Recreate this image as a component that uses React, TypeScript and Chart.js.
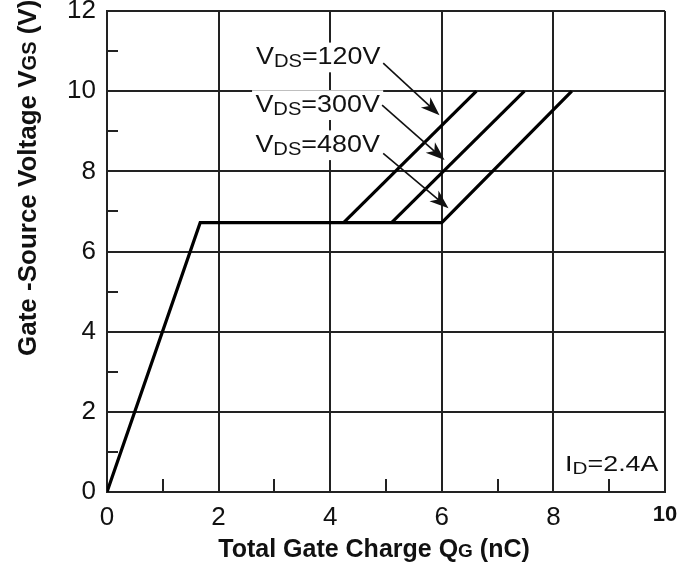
import React, { useEffect, useRef } from "react";
import { Chart, registerables } from "chart.js";

Chart.register(...registerables);

// ---- data ----
const xTickValues = [0, 2, 4, 6, 8, 10];
const yTickValues = [0, 2, 4, 6, 8, 10, 12];
const minorX = [1, 3, 5, 7, 9];
const minorY = [1, 3, 5, 7, 9, 11];

const vds480Q = [0, 1.67, 6.0, 8.33];
const vds480V = [0, 6.72, 6.72, 10];
const vds300Q = [5.1, 7.48];
const vds300V = [6.72, 10];
const vds120Q = [4.24, 6.62];
const vds120V = [6.72, 10];

const seriesNames = ["120V", "300V", "480V"];
const labelQ = [2.67, 2.66, 2.66];
const labelV = [10.67, 9.48, 8.48];
const arrowFromQ = [4.95, 4.93, 4.95];
const arrowFromV = [10.7, 9.65, 8.45];
const arrowToQ = [5.96, 6.05, 6.12];
const arrowToV = [9.4, 8.28, 7.08];

const idText = "2.4A";
const idQ = 8.21;
const idV = 0.52;

const FONT = '"Liberation Sans", Arial, Helvetica, sans-serif';
const INK = "#111111";

type Part = { t: string; small?: boolean };

function drawRich(
  ctx: CanvasRenderingContext2D,
  parts: Part[],
  size: number,
  smallSize: number,
  smallDrop: number,
  weight: string,
  scaleX: number,
  bg: boolean
) {
  const widths = parts.map((p) => {
    ctx.font = `${weight} ${p.small ? smallSize : size}px ${FONT}`;
    return ctx.measureText(p.t).width;
  });
  const total = widths.reduce((a, b) => a + b, 0);
  ctx.save();
  ctx.scale(scaleX, 1);
  if (bg) {
    ctx.fillStyle = "#ffffff";
    ctx.fillRect(-3, -size * 0.78 - 3, total + 6, size * 0.78 + 3 + smallDrop + 5);
  }
  ctx.fillStyle = INK;
  ctx.textAlign = "left";
  ctx.textBaseline = "alphabetic";
  let cx = 0;
  parts.forEach((p, i) => {
    ctx.font = `${weight} ${p.small ? smallSize : size}px ${FONT}`;
    ctx.fillText(p.t, cx, p.small ? smallDrop : 0);
    cx += widths[i];
  });
  ctx.restore();
  return total * scaleX;
}

function arrow(ctx: CanvasRenderingContext2D, x1: number, y1: number, x2: number, y2: number) {
  const ang = Math.atan2(y2 - y1, x2 - x1);
  const L = 19;
  const W = 7;
  const c = Math.cos(ang);
  const s = Math.sin(ang);
  ctx.strokeStyle = INK;
  ctx.lineWidth = 1.6;
  ctx.beginPath();
  ctx.moveTo(x1, y1);
  ctx.lineTo(x2 - c * L * 0.7, y2 - s * L * 0.7);
  ctx.stroke();
  ctx.fillStyle = INK;
  ctx.beginPath();
  ctx.moveTo(x2, y2);
  ctx.lineTo(x2 - c * L - s * W, y2 - s * L + c * W);
  ctx.lineTo(x2 - c * L * 0.72, y2 - s * L * 0.72);
  ctx.lineTo(x2 - c * L + s * W, y2 - s * L - c * W);
  ctx.closePath();
  ctx.fill();
}

const overlay = {
  id: "overlay",
  afterDatasetsDraw(chart: any) {
    const { ctx, chartArea } = chart;
    const x = chart.scales.x;
    const y = chart.scales.y;
    ctx.save();
    // minor ticks
    ctx.strokeStyle = "#222222";
    ctx.lineWidth = 2;
    minorY.forEach((v) => {
      const py = Math.round(y.getPixelForValue(v));
      ctx.beginPath();
      ctx.moveTo(chartArea.left, py);
      ctx.lineTo(chartArea.left + 11, py);
      ctx.stroke();
    });
    minorX.forEach((v) => {
      const px = Math.round(x.getPixelForValue(v));
      ctx.beginPath();
      ctx.moveTo(px, chartArea.bottom);
      ctx.lineTo(px, chartArea.bottom - 13);
      ctx.stroke();
    });

    // series annotations
    seriesNames.forEach((name, i) => {
      ctx.save();
      ctx.translate(x.getPixelForValue(labelQ[i]), y.getPixelForValue(labelV[i]));
      drawRich(ctx, [{ t: "V" }, { t: "DS", small: true }, { t: "=" + name }], 24, 18, 3, "normal", 1.12, true);
      ctx.restore();
      arrow(
        ctx,
        x.getPixelForValue(arrowFromQ[i]),
        y.getPixelForValue(arrowFromV[i]),
        x.getPixelForValue(arrowToQ[i]),
        y.getPixelForValue(arrowToV[i])
      );
    });

    // I_D label
    ctx.save();
    ctx.translate(x.getPixelForValue(idQ), y.getPixelForValue(idV));
    drawRich(ctx, [{ t: "I" }, { t: "D", small: true }, { t: "=" + idText }], 22, 17, 3, "normal", 1.22, false);
    ctx.restore();

    // x axis title
    const xParts: Part[] = [{ t: "Total Gate Charge Q" }, { t: "G", small: true }, { t: " (nC)" }];
    let w = 0;
    xParts.forEach((p) => {
      ctx.font = `bold ${p.small ? 19 : 25}px ${FONT}`;
      w += ctx.measureText(p.t).width;
    });
    ctx.save();
    ctx.translate(374 - w / 2, 557);
    drawRich(ctx, xParts, 25, 19, 0, "bold", 1, false);
    ctx.restore();

    // y axis title
    const yParts: Part[] = [{ t: "Gate -Source Voltage V" }, { t: "GS", small: true }, { t: " (V)" }];
    ctx.save();
    ctx.translate(36, 356);
    ctx.rotate(-Math.PI / 2);
    drawRich(ctx, yParts, 26, 20, 0, "bold", 1, false);
    ctx.restore();

    ctx.restore();
  },
};

export default function App() {
  const ref = useRef<HTMLCanvasElement | null>(null);
  useEffect(() => {
    if (!ref.current) return;
    const mk = (qs: number[], vs: number[]) => qs.map((q, i) => ({ x: q, y: vs[i] }));
    const ds = (label: string, data: any[]) => ({
      label,
      data,
      showLine: true,
      borderColor: "#000",
      backgroundColor: "#000",
      borderWidth: 3.2,
      pointRadius: 0,
      tension: 0,
      fill: false,
    });
    const chart = new Chart(ref.current, {
      type: "scatter",
      data: {
        datasets: [
          ds("VDS=480V", mk(vds480Q, vds480V)),
          ds("VDS=300V", mk(vds300Q, vds300V)),
          ds("VDS=120V", mk(vds120Q, vds120V)),
        ],
      },
      options: {
        animation: false,
        responsive: false,
        maintainAspectRatio: false,
        layout: { padding: { top: 11, right: 30, left: 0, bottom: 0 } },
        plugins: { legend: { display: false }, tooltip: { enabled: false } },
        scales: {
          x: {
            type: "linear",
            min: 0,
            max: 10,
            afterBuildTicks: (s: any) => {
              s.ticks = xTickValues.map((v) => ({ value: v }));
            },
            ticks: {
              padding: 10,
              color: INK,
              autoSkip: false,
              maxRotation: 0,
              font: (c: any) =>
                c.tick && c.tick.value === 10
                  ? { family: FONT, size: 22, weight: "bold" }
                  : { family: FONT, size: 26 },
            },
            grid: { color: "#222222", lineWidth: 2, drawTicks: false },
            border: { color: "#222222", width: 2 },
            afterFit: (s: any) => {
              s.height = 76;
              s.paddingLeft = 0;
              s.paddingRight = 0;
            },
          },
          y: {
            type: "linear",
            min: 0,
            max: 12,
            afterBuildTicks: (s: any) => {
              s.ticks = yTickValues.map((v) => ({ value: v }));
            },
            ticks: {
              padding: 11,
              color: INK,
              autoSkip: false,
              font: { family: FONT, size: 26 },
            },
            grid: { color: "#222222", lineWidth: 2, drawTicks: false },
            border: { color: "#222222", width: 2 },
            afterFit: (s: any) => {
              s.width = 107;
              s.paddingTop = 0;
              s.paddingBottom = 0;
            },
          },
        },
      },
      plugins: [overlay],
    } as any);
    return () => chart.destroy();
  }, []);
  return (
    <div style={{ position: "absolute", left: 0, top: 0, width: 695, height: 568, background: "#fff" }}>
      <canvas ref={ref} width={695} height={568} />
    </div>
  );
}
